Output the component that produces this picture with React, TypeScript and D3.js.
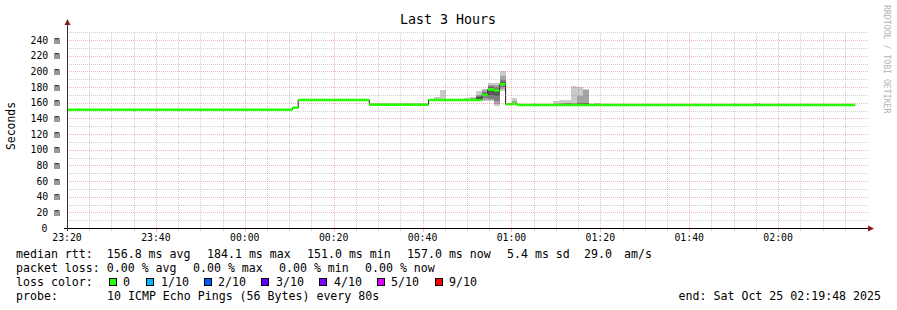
import React from "react";
import * as d3 from "d3";

// ---------- data ----------
const chartTitle = "Last 3 Hours";
const yAxisTitle = "Seconds";
const watermark = "RRDTOOL / TOBI OETIKER";
const timeStart = "23:20:00";
const timeEnd = "02:20:00";
const yMaxMs = 250;
const yTickValues = [0, 20, 40, 60, 80, 100, 120, 140, 160, 180, 200, 220, 240];
const yTickLabels = ["0", "20 m", "40 m", "60 m", "80 m", "100 m", "120 m", "140 m", "160 m", "180 m", "200 m", "220 m", "240 m"];
const xTickLabels = ["23:20", "23:40", "00:00", "00:20", "00:40", "01:00", "01:20", "01:40", "02:00"];

const sampleSeconds = 80;
const medianStarts = ["23:20:00", "00:10:41", "00:12:01", "00:28:01", "00:41:21", "00:53:21", "00:54:41", "00:56:01", "00:57:21", "00:58:41", "01:00:01", "01:01:21"];
const medianMs = [151.0, 153.5, 163.5, 157.5, 163.5, 170.0, 177.0, 175.5, 183.5, 158.0, 158.5, 157.0];
const medianEnd = "02:17:21";

const smokeStarts = ["00:42:41", "00:44:01", "00:49:21", "00:50:41", "00:52:01", "00:53:21", "00:54:41", "00:56:01", "00:57:21", "01:00:01", "01:09:21", "01:10:41", "01:12:01", "01:13:21", "01:14:41", "01:16:01", "01:18:41", "01:54:41"];
const smokePings = [
  [162, 163, 163, 163.5, 163.5, 163.5, 163.5, 164, 164, 167],
  [162, 162.5, 163, 163, 163.5, 163.5, 164, 164, 165, 176],
  [162, 163, 163, 163.5, 163.5, 163.5, 164, 164, 165, 166.5],
  [162, 163, 163, 163.5, 163.5, 164, 164, 165, 166, 167],
  [163, 163.5, 164, 164.5, 165, 166, 167, 168, 170, 175],
  [162.5, 164, 166, 168, 169.5, 170.5, 172, 174, 176, 177.5],
  [162, 163, 165, 170, 176, 178, 180, 181, 183, 185],
  [156, 158, 162, 168, 174, 176, 178, 180, 182, 185],
  [175, 177, 180, 182, 183, 184, 186, 189, 194, 200],
  [157, 157.5, 158, 158, 158.5, 159, 159.5, 160, 162, 165.5],
  [156, 156.5, 157, 157, 157, 157.5, 157.5, 158, 158.5, 162],
  [156, 156.5, 157, 157, 157.5, 157.5, 158, 158.5, 159, 163],
  [156, 157, 157, 157.5, 157.5, 158, 158.5, 159, 160, 163],
  [156, 156.5, 157, 157, 157, 157.5, 157.5, 158, 159, 181.5],
  [156, 156.5, 157, 157, 157.5, 158, 159, 160, 168, 179.5],
  [156, 157, 157, 157.5, 158, 158.5, 159, 160, 176.5, 177],
  [156.5, 157, 157, 157, 157, 157, 157.5, 158, 158.5, 160],
  [156.5, 157, 157, 157, 157, 157, 157.5, 157.5, 158, 159],
];

const rttStats = ["median rtt:  156.8 ms avg", "184.1 ms max", "151.0 ms min", "157.0 ms now", "5.4 ms sd", "29.0", "am/s"];
const lossStats = ["packet loss: 0.00 % avg", "0.00 % max", "0.00 % min", "0.00 % now"];
const lossTitle = "loss color:";
const lossLabels = ["0", "1/10", "2/10", "3/10", "4/10", "5/10", "9/10"];
const lossColors = ["#26ff00", "#00b8ff", "#0059ff", "#5e00ff", "#7e00ff", "#dd00ff", "#ff0000"];
const probeTitle = "probe:";
const probeText = "10 ICMP Echo Pings (56 Bytes) every 80s";
const endText = "end: Sat Oct 25 02:19:48 2025";

// ---------- layout ----------
const W = 897;
const H = 310;
const X0 = 67;
const X1 = 867;
const Y0 = 228;
const YTOP = 32.2;
const MONO = "'DejaVu Sans Mono', monospace";

const rttX = [16, 207, 307, 407, 507, 584, 624];
const lossX = [16, 193, 279, 365];
const swatchX = [109, 146, 204, 261, 319, 377, 435];
const swatchTextX = [123, 161, 218, 276, 334, 391, 449];

const parseT = (s: string) => {
  const [h, m, sec] = s.split(":").map(Number);
  return new Date(2025, 9, h >= 12 ? 24 : 25, h, m, sec);
};

const px = (v: number) => Math.round(v) + 0.5;

export default function App() {
  const t0 = parseT(timeStart);
  const t1 = parseT(timeEnd);
  const x = d3.scaleTime().domain([t0, t1]).range([X0, X1]);
  const y = d3.scaleLinear().domain([0, yMaxMs]).range([Y0, YTOP]);

  const gridTimes = d3.timeMinute.every(5)!.range(t0, t1).filter((d) => +d !== +t0);
  const gridVals = d3.range(10, yMaxMs + 1, 10);
  const fmt = d3.timeFormat("%H:%M");
  const labelTimes = d3.timeMinute.every(20)!.range(t0, t1).filter((d) => xTickLabels.includes(fmt(d)));

  const medPts: [Date, number][] = medianStarts.map((s, i) => [parseT(s), medianMs[i]]);
  medPts.push([parseT(medianEnd), medianMs[medianMs.length - 1]]);
  const medLine = d3
    .line<[Date, number]>()
    .x((d) => x(d[0]))
    .y((d) => y(d[1]))
    .curve(d3.curveStepAfter)(medPts)!;
  const medBand = d3
    .area<[Date, number]>()
    .x((d) => x(d[0]))
    .y0((d) => y(d[1]) + 1.3)
    .y1((d) => y(d[1]) - 1.3)
    .curve(d3.curveStepAfter)(medPts)!;

  const half = 5;
  const smokeRects: JSX.Element[] = [];
  smokeStarts.forEach((s, i) => {
    const ts = parseT(s);
    const te = new Date(+ts + sampleSeconds * 1000);
    const p = smokePings[i];
    const n = p.length;
    for (let ibot = 1; ibot <= half; ibot++) {
      const itop = n + 1 - ibot;
      const c = Math.floor((190 / half) * (half - ibot)) + 50;
      const ya = y(p[itop - 1]);
      const yb = y(p[ibot - 1]);
      smokeRects.push(
        <rect
          key={`s${i}-${ibot}`}
          x={x(ts)}
          width={x(te) - x(ts)}
          y={ya}
          height={Math.max(0, yb - ya)}
          fill={`rgb(${c},${c},${c})`}
        />
      );
    }
  });

  const minorGrid = "rgba(140,140,140,0.42)";
  const majorGrid = "rgba(230,100,100,0.48)";

  return (
    <svg
      width={W}
      height={H}
      viewBox={`0 0 ${W} ${H}`}
      style={{ position: "absolute", left: 0, top: 0, background: "#fff" }}
      fontFamily={MONO}
    >
      <rect x={0} y={0} width={W} height={H} fill="#ffffff" />

      <g shapeRendering="crispEdges">{smokeRects}</g>
      <path d={medLine} fill="none" stroke="#202020" strokeWidth={1} />
      <path d={medBand} fill="#26ff00" />

      <g strokeWidth={1} strokeDasharray="1,1" shapeRendering="crispEdges">
        {gridVals.map((v) => (
          <line
            key={`h${v}`}
            x1={X0}
            x2={X1 + 1}
            y1={px(y(v))}
            y2={px(y(v))}
            stroke={v % 20 === 0 ? majorGrid : minorGrid}
          />
        ))}
        {gridTimes.map((d) => (
          <line
            key={`v${+d}`}
            x1={px(x(d))}
            x2={px(x(d))}
            y1={Y0}
            y2={YTOP}
            stroke={d.getMinutes() % 20 === 0 ? majorGrid : minorGrid}
          />
        ))}
      </g>

      <g shapeRendering="crispEdges" strokeWidth={1}>
        {gridTimes.map((d) => (
          <line
            key={`tx${+d}`}
            x1={px(x(d))}
            x2={px(x(d))}
            y1={Y0 + 1}
            y2={Y0 + (d.getMinutes() % 20 === 0 ? 4 : 3)}
            stroke={d.getMinutes() % 20 === 0 ? majorGrid : minorGrid}
          />
        ))}
      </g>

      <g shapeRendering="crispEdges">
        <line x1={X0 - 3} x2={X1 + 1} y1={Y0 + 0.5} y2={Y0 + 0.5} stroke="#000" />
        <line x1={X0 + 0.5} x2={X0 + 0.5} y1={Y0 + 3} y2={24} stroke="#333" />
      </g>
      <path d={`M${X0 + 0.5},19 L${X0 - 2.5},25 L${X0 + 3.5},25 Z`} fill="#8c1a1a" />
      <path d={`M${X1 + 7},${Y0 + 0.5} L${X1 + 1},${Y0 - 2.5} L${X1 + 1},${Y0 + 3.5} Z`} fill="#8c1a1a" />

      {yTickValues.map((v, i) => (
        <text
          key={`yl${v}`}
          x={v === 0 ? 47.5 : 60}
          y={y(v)}
          dy="0.36em"
          textAnchor="end"
          fontSize={9.8}
          fill="#000"
        >
          {yTickLabels[i]}
        </text>
      ))}

      {labelTimes.map((d) => (
        <text key={`xl${+d}`} x={x(d)} y={241} textAnchor="middle" fontSize={9.8} fill="#000">
          {fmt(d)}
        </text>
      ))}

      <text x={448} y={24} textAnchor="middle" fontSize={13.3} fill="#000">
        {chartTitle}
      </text>
      <text transform="translate(14.5,126) rotate(-90)" textAnchor="middle" fontSize={11.4} fill="#000">
        {yAxisTitle}
      </text>
      <text transform="translate(884,5) rotate(90)" fontSize={8.2} fill="#b4b4b4">
        {watermark}
      </text>

      <g fontSize={11.6} fill="#000" style={{ whiteSpace: "pre" }}>
        {rttStats.map((s, i) => (
          <text key={`r${i}`} x={rttX[i]} y={258} xmlSpace="preserve">
            {s}
          </text>
        ))}
        {lossStats.map((s, i) => (
          <text key={`l${i}`} x={lossX[i]} y={272} xmlSpace="preserve">
            {s}
          </text>
        ))}
        <text x={16} y={286}>{lossTitle}</text>
        {lossLabels.map((s, i) => (
          <g key={`lc${i}`}>
            <rect
              x={swatchX[i] + 0.5}
              y={278.5}
              width={7}
              height={7}
              fill={lossColors[i]}
              stroke="#000"
              strokeWidth={1}
              shapeRendering="crispEdges"
            />
            <text x={swatchTextX[i]} y={286}>
              {s}
            </text>
          </g>
        ))}
        <text x={16} y={300}>{probeTitle}</text>
        <text x={107} y={300}>{probeText}</text>
        <text x={881} y={300} textAnchor="end">
          {endText}
        </text>
      </g>
    </svg>
  );
}
